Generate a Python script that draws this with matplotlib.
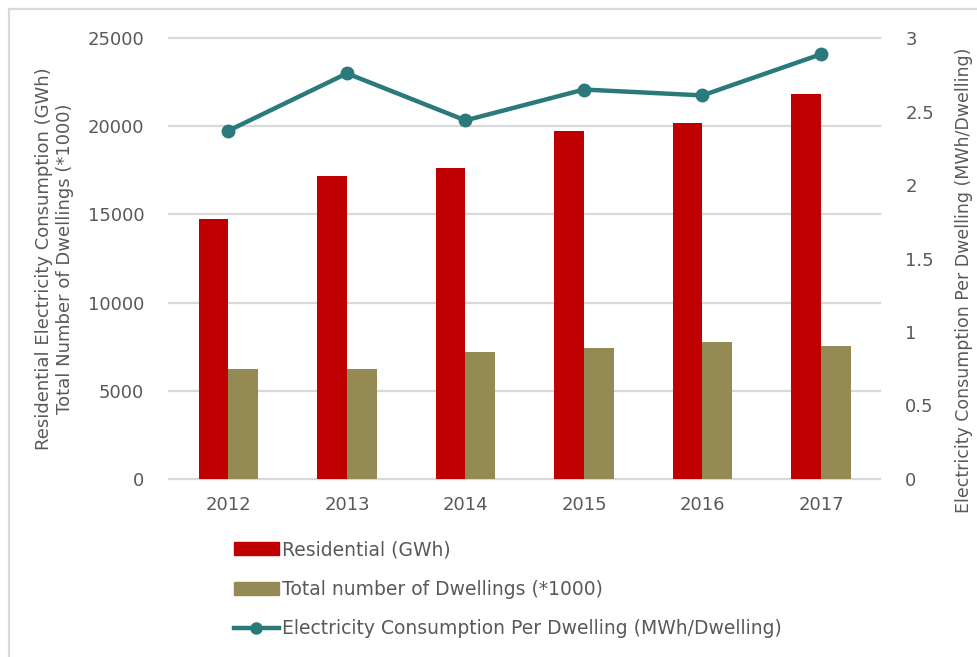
import matplotlib.pyplot as plt
import numpy as np
from matplotlib.patches import Rectangle
from matplotlib.lines import Line2D
from matplotlib.patches import Patch

years = ['2012', '2013', '2014', '2015', '2016', '2017']
residential = [14770, 17190, 17620, 19720, 20210, 21820]
dwellings = [6220, 6220, 7220, 7450, 7770, 7530]
per_dwelling = [2.37, 2.76, 2.44, 2.65, 2.61, 2.89]

red = '#C00000'
olive = '#948A54'
teal = '#2A7A7C'
txt = '#595959'
grid = '#D9D9D9'

plt.rcParams['font.family'] = ['DejaVu Sans']

fig = plt.figure(figsize=(9.78, 6.57), dpi=100)
ax = fig.add_axes([0.173, 0.271, 0.727, 0.671])

x = np.arange(len(years))
w = 0.25
ax.bar(x - w / 2, residential, w, color=red, zorder=2)
ax.bar(x + w / 2, dwellings, w, color=olive, zorder=2)

ax.set_xlim(-0.5, len(years) - 0.5)
ax.set_ylim(0, 25000)
ax.set_yticks(range(0, 25001, 5000))
ax.yaxis.grid(True, color=grid, linewidth=1.6, zorder=0)
for gl in ax.get_ygridlines():
    gl.set_clip_on(False)
ax.set_axisbelow(True)
for s in ax.spines.values():
    s.set_visible(False)
ax.set_xticks(x)
ax.set_xticklabels(years)
ax.tick_params(length=0, labelsize=13, colors=txt, pad=12)
ax.tick_params(axis='y', pad=18)
ax.set_ylabel('Residential Electricity Consumption (GWh)\nTotal Number of Dwellings (*1000)',
              fontsize=13, color=txt, labelpad=10, linespacing=1.15)

ax2 = ax.twinx()
ax2.plot(x, per_dwelling, color=teal, linewidth=3.2, marker='o', markersize=9, zorder=3)
ax2.set_ylim(0, 3)
ax2.set_yticks(np.arange(0, 3.01, 0.5))
ax2.set_yticklabels(['0', '0.5', '1', '1.5', '2', '2.5', '3'])
for s in ax2.spines.values():
    s.set_visible(False)
ax2.tick_params(length=0, labelsize=13, colors=txt, pad=18)
ax2.set_ylabel('Electricity Consumption Per Dwelling (MWh/Dwelling)',
               fontsize=12.5, color=txt)
ax2.yaxis.set_label_coords(1.105, 0.45)

handles = [Patch(color=red), Patch(color=olive),
           Line2D([0], [0], color=teal, linewidth=3.2, marker='o', markersize=8)]
labels = ['Residential (GWh)', 'Total number of Dwellings (*1000)',
          'Electricity Consumption Per Dwelling (MWh/Dwelling)']
fig.legend(handles, labels, loc='upper left', bbox_to_anchor=(0.239, 0.178),
           frameon=False, fontsize=13.5, labelcolor=txt, handlelength=2.4,
           handletextpad=0.2, labelspacing=1.1, borderaxespad=0, borderpad=0)

fig.patches.append(Rectangle((0.009, -0.05), 1.1, 1.037, transform=fig.transFigure,
                             fill=False, edgecolor='#D9D9D9', linewidth=1.6))

fig.savefig('out.png', dpi=100)
